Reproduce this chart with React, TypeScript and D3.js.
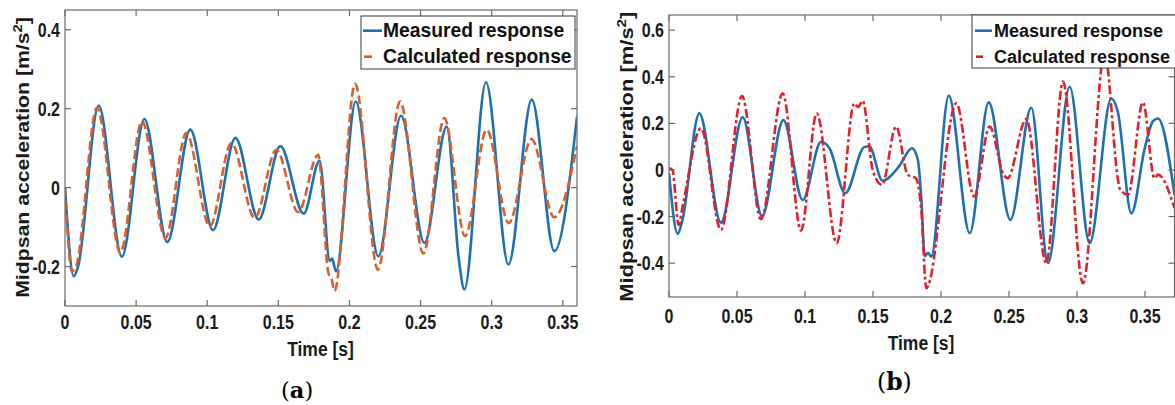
import React from 'react';
import * as d3 from 'd3';

type Pt = [number, number];

// ---------- Data (time [s], acceleration [m/s^2]) ----------
const measuredA: Pt[] = [
  [0, 0.0], [0.0062, -0.225], [0.0092, -0.2], [0.0237, 0.208], [0.04, -0.175],
  [0.0558, 0.174], [0.0719, -0.138], [0.0881, 0.147], [0.1041, -0.108],
  [0.1198, 0.126], [0.1362, -0.081], [0.1514, 0.105], [0.1678, -0.066],
  [0.179, 0.068], [0.1862, -0.186], [0.1878, -0.18], [0.1905, -0.212],
  [0.2044, 0.218], [0.2203, -0.174], [0.2363, 0.182], [0.2527, -0.14],
  [0.2684, 0.155], [0.277, -0.185], [0.2808, -0.258], [0.296, 0.267],
  [0.3118, -0.195], [0.3282, 0.223], [0.3441, -0.161], [0.36, 0.18],
];
const calculatedA: Pt[] = [
  [0, 0.0], [0.0049, -0.212], [0.0078, -0.2], [0.0225, 0.202], [0.0389, -0.165],
  [0.0541, 0.168], [0.0706, -0.127], [0.0853, 0.138], [0.1018, -0.098],
  [0.117, 0.113], [0.1334, -0.077], [0.1486, 0.096], [0.164, -0.062],
  [0.178, 0.083], [0.1855, -0.22], [0.187, -0.225], [0.1895, -0.262],
  [0.204, 0.263], [0.22, -0.208], [0.2356, 0.218], [0.252, -0.167],
  [0.2667, 0.176], [0.2813, -0.123], [0.2965, 0.147], [0.312, -0.09],
  [0.328, 0.123], [0.344, -0.075], [0.36, 0.105],
];
const measuredB: Pt[] = [
  [0, -0.014], [0.0064, -0.274], [0.0095, -0.225], [0.0223, 0.243], [0.0382, -0.226],
  [0.0542, 0.226], [0.0684, -0.197], [0.0841, 0.214], [0.0983, -0.129],
  [0.1118, 0.121], [0.118, 0.093], [0.1296, -0.1], [0.1435, 0.098], [0.1472, 0.102],
  [0.157, -0.046], [0.169, 0.014], [0.1787, 0.093], [0.183, 0.043], [0.1855, -0.121],
  [0.188, -0.37], [0.1905, -0.355], [0.1928, -0.372], [0.2057, 0.319],
  [0.2211, -0.271], [0.2351, 0.29], [0.251, -0.214], [0.2664, 0.267],
  [0.2787, -0.4], [0.2946, 0.357], [0.3093, -0.314], [0.3252, 0.307],
  [0.33, 0.25], [0.34, -0.186], [0.3498, 0.093], [0.3559, 0.21], [0.3596, 0.221],
  [0.3717, -0.107],
];
const calculatedB: Pt[] = [
  [0, 0.007], [0.0025, 0.0], [0.0071, -0.236], [0.01, -0.157], [0.0235, 0.179],
  [0.0382, -0.257], [0.0537, 0.317], [0.0676, -0.211], [0.0836, 0.329],
  [0.0971, -0.26], [0.1086, 0.243], [0.1233, -0.314], [0.1363, 0.286],
  [0.139, 0.27], [0.1424, 0.297], [0.1498, 0.0], [0.1566, -0.064], [0.167, 0.186],
  [0.1755, -0.02], [0.1816, -0.036], [0.1855, -0.17], [0.1892, -0.507],
  [0.2113, 0.286], [0.2243, -0.114], [0.2358, 0.186], [0.246, -0.02],
  [0.249, -0.035], [0.2627, 0.219], [0.2774, -0.4], [0.2897, 0.379],
  [0.3044, -0.486], [0.3203, 0.5], [0.33, -0.036], [0.3314, -0.08],
  [0.3375, -0.107], [0.3485, 0.29], [0.357, -0.036], [0.3596, -0.02],
  [0.3717, -0.164],
];

const xTicks = [0, 0.05, 0.1, 0.15, 0.2, 0.25, 0.3, 0.35];
const yTicksA = [-0.2, 0, 0.2, 0.4];
const yTicksB = [-0.4, -0.2, 0, 0.2, 0.4, 0.6];
const legendLabels = ['Measured response', 'Calculated response'];
const xTitle = 'Time [s]';
const yTitle = 'Midpsan acceleration [m/s';
const panelLetters = ['a', 'b'];

const BLUE = '#1f70b0';
const ORANGE = '#d9602c';
const RED = '#e3202a';
const SANS = '"Liberation Sans", Arial, Helvetica, sans-serif';
const SERIF = '"DejaVu Serif", serif';

const fmt = (v: number) => (v === 0 ? '0' : String(+v.toFixed(2)));

interface Cfg {
  id: string;
  l: number; r: number; t: number; b: number;
  xDomain: [number, number]; yDomain: [number, number];
  yTicks: number[];
  measured: Pt[]; calculated: Pt[];
  calcColor: string; dash: string;
  yLabelX: number; xLabelY: number;
  xTitleX: number; xTitleY: number;
  yTitleX: number; yTitleY: number; yTitleSx: number;
  letter: string; letterX: number; letterY: number; letterSize: number;
  leg: { x: number; y: number; w: number; h: number; fs: number; tx: number; b1: number; b2: number; l1: [number, number]; l2: [number, number]; ly1: number; ly2: number };
}

const TICK = 6;

function Panel({ c }: { c: Cfg }) {
  const x = d3.scaleLinear().domain(c.xDomain).range([c.l, c.r]);
  const y = d3.scaleLinear().domain(c.yDomain).range([c.b, c.t]);
  const line = d3.line<Pt>().x(d => x(d[0])).y(d => y(d[1])).curve(d3.curveMonotoneX);
  const axisColor = '#6a6a6a';
  const xt = xTicks.filter(v => v <= c.xDomain[1]);
  return (
    <g>
      <defs>
        <clipPath id={`clip-${c.id}`}>
          <rect x={c.l} y={c.t} width={c.r - c.l} height={c.b - c.t} />
        </clipPath>
      </defs>
      <g clipPath={`url(#clip-${c.id})`}>
        <path d={line(c.measured) || ''} fill="none" stroke={BLUE} strokeWidth={2.6} strokeLinejoin="round" />
        <path d={line(c.calculated) || ''} fill="none" stroke={c.calcColor} strokeWidth={2.6} strokeDasharray={c.dash} strokeLinejoin="round" />
      </g>
      <rect x={c.l} y={c.t} width={c.r - c.l} height={c.b - c.t} fill="none" stroke={axisColor} strokeWidth={1.2} />
      {xt.map(v => (
        <g key={`xt${v}`}>
          <line x1={x(v)} x2={x(v)} y1={c.b} y2={c.b - TICK} stroke={axisColor} strokeWidth={1.2} />
          <line x1={x(v)} x2={x(v)} y1={c.t} y2={c.t + TICK} stroke={axisColor} strokeWidth={1.2} />
          <text transform={`translate(${x(v)},${c.xLabelY}) scale(1,1.22)`} textAnchor="middle" fontFamily={SANS} fontWeight="bold" fontSize={16} fill="#1a1a1a">{fmt(v)}</text>
        </g>
      ))}
      {c.yTicks.map(v => (
        <g key={`yt${v}`}>
          <line x1={c.l} x2={c.l + TICK} y1={y(v)} y2={y(v)} stroke={axisColor} strokeWidth={1.2} />
          <line x1={c.r} x2={c.r - TICK} y1={y(v)} y2={y(v)} stroke={axisColor} strokeWidth={1.2} />
          <text transform={`translate(${c.yLabelX},${y(v) + 7}) scale(1,1.22)`} textAnchor="end" fontFamily={SANS} fontWeight="bold" fontSize={16} fill="#1a1a1a">{fmt(v)}</text>
        </g>
      ))}
      <text transform={`translate(${c.xTitleX},${c.xTitleY}) scale(1,1.18)`} textAnchor="middle" fontFamily={SANS} fontWeight="bold" fontSize={17.5} fill="#1a1a1a">{xTitle}</text>
      <text transform={`translate(${c.yTitleX},${c.yTitleY}) rotate(-90) scale(${c.yTitleSx},1)`} textAnchor="middle" fontFamily={SANS} fontWeight="bold" fontSize={18} fill="#1a1a1a">
        {yTitle}<tspan fontSize={12.5} dy={-7}>2</tspan><tspan dy={7}>]</tspan>
      </text>
      <rect x={c.leg.x} y={c.leg.y} width={c.leg.w} height={c.leg.h} fill="#ffffff" stroke="#3a3a3a" strokeWidth={1} />
      <line x1={c.leg.l1[0]} x2={c.leg.l1[1]} y1={c.leg.ly1} y2={c.leg.ly1} stroke={BLUE} strokeWidth={2.6} />
      <line x1={c.leg.l2[0]} x2={c.leg.l2[1]} y1={c.leg.ly2} y2={c.leg.ly2} stroke={c.calcColor} strokeWidth={2.6} />
      <text x={c.leg.tx} y={c.leg.b1} fontFamily={SANS} fontWeight="bold" fontSize={c.leg.fs} fill="#111">{legendLabels[0]}</text>
      <text x={c.leg.tx} y={c.leg.b2} fontFamily={SANS} fontWeight="bold" fontSize={c.leg.fs} fill="#111">{legendLabels[1]}</text>
      <text x={c.letterX} y={c.letterY} fontFamily={SERIF} fontSize={c.letterSize} fill="#000">
        (<tspan fontWeight="bold">{c.letter}</tspan>)
      </text>
    </g>
  );
}

const cfgA: Cfg = {
  id: 'a', l: 65, r: 577, t: 10, b: 306,
  xDomain: [0, 0.36], yDomain: [-0.3, 0.45], yTicks: yTicksA,
  measured: measuredA, calculated: calculatedA, calcColor: ORANGE, dash: '9,4',
  yLabelX: 60, xLabelY: 329, xTitleX: 320.5, xTitleY: 356,
  yTitleX: 28.5, yTitleY: 157.5, yTitleSx: 1.18,
  letter: panelLetters[0], letterX: 281, letterY: 398, letterSize: 22.5,
  leg: { x: 361, y: 16, w: 214, h: 53, fs: 19.3, tx: 383, b1: 37.3, b2: 63.3, l1: [363, 382], l2: [364, 372], ly1: 30.7, ly2: 56.7 },
};
const cfgB: Cfg = {
  id: 'b', l: 669, r: 1174.5, t: 15, b: 297,
  xDomain: [0, (1174.5 - 669) / 1360], yDomain: [-0.545, 0.665], yTicks: yTicksB,
  measured: measuredB, calculated: calculatedB, calcColor: RED, dash: '9,3,3,3',
  yLabelX: 664, xLabelY: 323, xTitleX: 921, xTitleY: 350,
  yTitleX: 633, yTitleY: 156.7, yTitleSx: 1.22,
  letter: panelLetters[1], letterX: 877, letterY: 390, letterSize: 23.5,
  leg: { x: 972, y: 15, w: 210, h: 53, fs: 18, tx: 994, b1: 36.7, b2: 63.3, l1: [975, 992], l2: [976, 983], ly1: 30.7, ly2: 56.7 },
};

export default function App() {
  return (
    <svg width={1175} height={405} viewBox="0 0 1175 405" style={{ position: 'absolute', left: 0, top: 0, background: '#fff' }}>
      <rect x={0} y={0} width={1175} height={405} fill="#fff" />
      <Panel c={cfgA} />
      <Panel c={cfgB} />
    </svg>
  );
}
